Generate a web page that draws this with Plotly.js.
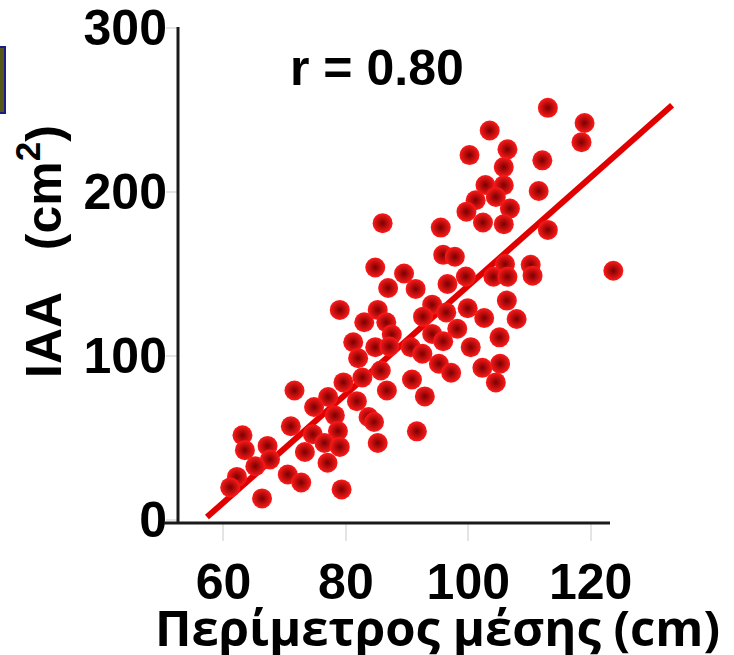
<!DOCTYPE html>
<html>
<head>
<meta charset="utf-8">
<script src="https://cdn.plot.ly/plotly-3.0.1.min.js"></script>
<style>html,body{margin:0;padding:0;background:#fff;}#chart{width:734px;height:655px;}</style>
</head>
<body>
<div id="chart"></div>
<script>
// Waist circumference (cm)
const waist = [113.0,119.0,118.5,103.5,100.2,106.4,105.8,112.1,102.8,105.8,
  111.5,101.2,104.5,99.7,106.8,102.4,105.8,95.5,113.0,86.0,
  95.9,97.8,84.8,89.5,86.9,91.4,96.6,99.6,106.0,104.1,
  106.4,110.2,110.5,123.7,79.0,85.2,83.0,86.6,94.1,92.6,
  96.4,99.9,106.3,102.6,107.9,87.5,81.2,84.8,87.1,90.6,
  94.1,95.9,98.2,100.4,105.1,82.0,92.5,95.2,97.2,102.3,
  105.2,104.5,85.7,82.7,79.6,90.8,71.6,77.1,74.8,81.8,
  86.7,92.9,78.2,83.7,84.6,71.0,78.7,74.6,91.6,63.1,
  76.5,79.0,85.2,63.5,67.2,73.3,67.6,65.2,77.0,70.5,
  62.2,61.1,72.7,79.3,66.3];
// IAA (cm2)
const iaa = [251.1,241.9,230.2,237.3,222.3,225.8,215.0,219.1,204.1,203.9,
  200.4,194.8,196.8,187.8,189.7,181.2,180.2,178.1,176.7,180.8,
  161.5,160.3,153.8,150.1,141.3,140.7,143.7,148.3,155.9,148.1,
  148.1,155.4,148.8,151.8,127.9,127.9,120.4,120.4,131.1,123.8,
  126.4,128.9,133.6,123.0,122.4,112.9,108.2,105.2,105.6,105.2,
  113.3,108.8,116.4,105.2,111.2,98.5,101.2,95.1,89.6,92.6,
  95.1,83.7,91.0,86.7,83.7,85.5,78.8,74.8,68.7,72.3,
  78.8,75.2,63.6,62.6,59.6,57.0,54.1,52.1,53.9,51.5,
  46.8,44.4,46.8,42.4,45.0,41.3,36.7,32.6,34.7,27.6,
  26.1,19.7,22.7,18.5,13.0];
// Regression line end points
const fitX = [57.3, 133.3];
const fitY = [1.6, 252.7];
const xTicks = [60, 80, 100, 120];
const yTicks = [0, 100, 200, 300];
const rLabel = 'r = 0.80';
const xTitle = 'Περίμετρος μέσης (cm)';
const yTitle = 'IAA\u00a0\u00a0\u00a0(cm<sup>2</sup>)';

const boldFont = {family: 'Arial, "Liberation Sans", sans-serif', size: 50, color: '#000', weight: 'bold'};

const traces = [
  {
    x: fitX, y: fitY, mode: 'lines', type: 'scatter',
    line: {color: '#e00000', width: 6}, hoverinfo: 'skip', cliponaxis: false
  },
  {
    x: waist, y: iaa, mode: 'markers', type: 'scatter', cliponaxis: false,
    marker: {size: 20, color: '#ff1a1a', line: {width: 0},
      gradient: {type: 'radial', color: '#7a0000'}}
  }
];

const L = 164, W = 570, T = 27, H = 496;
const px = v => (v - L) / W;
const py = v => (T + H - v) / H;

const layout = {
  width: 734, height: 655,
  margin: {l: L, r: 0, t: T, b: 655 - T - H, pad: 0},
  paper_bgcolor: '#fff', plot_bgcolor: '#fff',
  showlegend: false,
  xaxis: {
    range: [50.28, 50.28 + W / 6.12],
    tickvals: xTicks, ticktext: xTicks.map(String),
    ticks: 'outside', ticklen: 17, tickwidth: 2, tickcolor: '#e4e4e4',
    showgrid: false, zeroline: false, showline: false,
    tickfont: boldFont, ticklabelstandoff: -2
  },
  yaxis: {
    range: [-2, 300.4],
    anchor: 'free', position: px(178),
    tickvals: yTicks, ticktext: yTicks.map(String),
    ticks: 'outside', ticklen: 12, tickwidth: 2, tickcolor: '#e4e4e4',
    showgrid: false, zeroline: false, showline: false,
    tickfont: boldFont, ticklabelstandoff: -11
  },
  shapes: [
    {type: 'line', xref: 'paper', yref: 'paper', x0: 0, x1: px(610), y0: 0, y1: 0,
      line: {color: '#1a1a1a', width: 3}},
    {type: 'line', xref: 'paper', yref: 'paper', x0: px(178), x1: px(178), y0: 0, y1: 1,
      line: {color: '#1a1a1a', width: 3}},
    {type: 'rect', xref: 'paper', yref: 'paper', x0: px(-2), x1: px(5), y0: py(113), y1: py(47),
      fillcolor: '#56561c', line: {color: '#1c1c86', width: 2}}
  ],
  annotations: [
    {text: rLabel, xref: 'paper', yref: 'paper', x: px(377), y: py(68),
      showarrow: false, xanchor: 'center', yanchor: 'middle', font: boldFont},
    {text: yTitle, xref: 'paper', yref: 'paper', x: px(40), y: py(252), textangle: -90,
      showarrow: false, xanchor: 'center', yanchor: 'middle', font: boldFont},
    {text: xTitle, xref: 'paper', yref: 'paper', x: px(437), y: py(627),
      showarrow: false, xanchor: 'center', yanchor: 'middle',
      font: {family: '"Open Sans", "Noto Sans", sans-serif', size: 49, color: '#000', weight: 'bold'}}
  ]
};

Plotly.newPlot('chart', traces, layout, {displayModeBar: false, staticPlot: true});
</script>
</body>
</html>
